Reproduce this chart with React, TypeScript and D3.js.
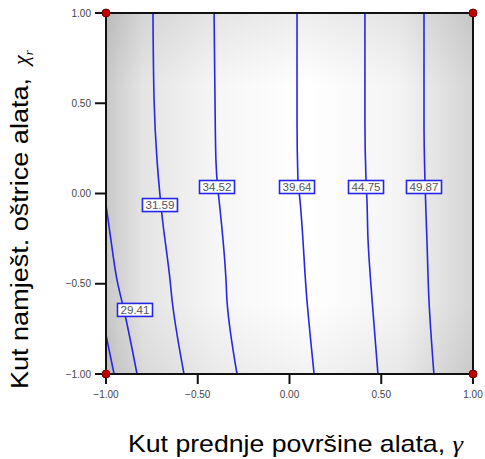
import React from "react";
import * as d3 from "d3";

// axis ticks
const xTicks = [-1, -0.5, 0, 0.5, 1];
const yTicks = [-1, -0.5, 0, 0.5, 1];

// contour lines (data coords: [gamma, chi_r])
const contour24: [number, number][] = [[-1.0, -0.784], [-0.956, -1.0]];
const contour2941: [number, number][] = [[-1.0, -0.064], [-0.973, -0.258], [-0.94, -0.479], [-0.896, -0.673], [-0.831, -1.0]];
const contour3159: [number, number][] = [[-0.744, 1.0], [-0.738, 0.518], [-0.722, 0.186], [-0.706, -0.008], [-0.695, -0.119], [-0.651, -0.479], [-0.64, -0.59], [-0.575, -1.0]];
const contour3452: [number, number][] = [[-0.411, 1.0], [-0.406, 0.518], [-0.401, 0.186], [-0.39, 0.019], [-0.384, -0.036], [-0.346, -0.479], [-0.341, -0.59], [-0.286, -1.0]];
const contour3964: [number, number][] = [[0.041, 1.0], [0.041, 0.407], [0.046, 0.075], [0.057, -0.036], [0.095, -0.59], [0.134, -1.0]];
const contour4475: [number, number][] = [[0.411, 1.0], [0.411, 0.407], [0.417, 0.075], [0.422, -0.036], [0.428, -0.258], [0.45, -0.59], [0.482, -1.0]];
const contour4987: [number, number][] = [[0.733, 1.0], [0.733, 0.407], [0.738, 0.075], [0.749, -0.258], [0.76, -0.59], [0.787, -1.0]];

const contours = [contour24, contour2941, contour3159, contour3452, contour3964, contour4475, contour4987];

// contour labels
const labelTexts = ["29.41", "31.59", "34.52", "39.64", "44.75", "49.87"];
const labelX = [-0.842, -0.706, -0.395, 0.041, 0.417, 0.733];
const labelY = [-0.645, -0.064, 0.036, 0.036, 0.036, 0.036];

// design points at corners
const designX = [-1, 1, -1, 1];
const designY = [1, 1, -1, -1];

export default function App() {
  const W = 485, H = 459;
  const x = d3.scaleLinear().domain([-1, 1]).range([106, 473]);
  const y = d3.scaleLinear().domain([-1, 1]).range([374, 13]);
  const line = d3.line<[number, number]>().x(d => x(d[0])).y(d => y(d[1])).curve(d3.curveMonotoneY);
  const fmt = d3.format(".2f");
  const [x0, x1] = x.range();
  const [yb, yt] = y.range();
  const serif = "'Liberation Serif', 'Times New Roman', serif";

  return (
    <svg width={W} height={H} style={{ position: "absolute", left: 0, top: 0, background: "#fff" }}
      fontFamily="'Liberation Sans', Arial, sans-serif">
      <defs>
        <linearGradient id="hg" x1="0" x2="1" y1="0" y2="0">
          <stop offset="0%" stopColor="#c8c8c8" />
          <stop offset="10%" stopColor="#e4e4e4" />
          <stop offset="30%" stopColor="#f6f6f6" />
          <stop offset="55%" stopColor="#ffffff" />
          <stop offset="80%" stopColor="#f4f4f4" />
          <stop offset="100%" stopColor="#d4d4d4" />
        </linearGradient>
        <linearGradient id="vg" x1="0" x2="0" y1="0" y2="1">
          <stop offset="0%" stopColor="#000" stopOpacity={0.07} />
          <stop offset="20%" stopColor="#000" stopOpacity={0} />
          <stop offset="80%" stopColor="#000" stopOpacity={0} />
          <stop offset="100%" stopColor="#000" stopOpacity={0.05} />
        </linearGradient>
        <clipPath id="plotclip">
          <rect x={x0} y={yt} width={x1 - x0} height={yb - yt} />
        </clipPath>
      </defs>
      <rect x={x0} y={yt} width={x1 - x0} height={yb - yt} fill="url(#hg)" />
      <rect x={x0} y={yt} width={x1 - x0} height={yb - yt} fill="url(#vg)" />

      <g clipPath="url(#plotclip)">
        {contours.map((c, i) => (
          <path key={i} d={line(c) || ""} fill="none" stroke="#2626e6" strokeWidth={1.6} />
        ))}
      </g>

      {labelTexts.map((t, i) => (
        <g key={t} transform={`translate(${x(labelX[i])},${y(labelY[i])})`}>
          <rect x={-17.5} y={-6.5} width={35} height={13} fill="#fff" stroke="#2626e6" strokeWidth={1.6} />
          <text textAnchor="middle" dy="0.36em" fontSize={10.5} fill="#555" textLength={29} lengthAdjust="spacingAndGlyphs">{t}</text>
        </g>
      ))}

      <rect x={x0} y={yt} width={x1 - x0} height={yb - yt} fill="none" stroke="#111" strokeWidth={2} />

      {xTicks.map(t => (
        <g key={"x" + t}>
          <line x1={x(t)} x2={x(t)} y1={yb} y2={yb + 10} stroke="#111" strokeWidth={2} />
          <text x={x(t)} y={398} textAnchor="middle" fontSize={10} fill="#444">{fmt(t)}</text>
        </g>
      ))}
      {yTicks.map(t => (
        <g key={"y" + t}>
          <line x1={x0 - 11} x2={x0} y1={y(t)} y2={y(t)} stroke="#111" strokeWidth={2} />
          <text x={91} y={y(t)} dy="0.35em" textAnchor="end" fontSize={10} fill="#444">{fmt(t)}</text>
        </g>
      ))}

      {designX.map((d, i) => (
        <circle key={i} cx={x(d)} cy={y(designY[i])} r={4} fill="#c00000" stroke="#700000" strokeWidth={1} />
      ))}

      <text x={128} y={452} fontSize={24} fill="#000" textLength={335} lengthAdjust="spacingAndGlyphs">
        Kut prednje površine alata,{" "}
        <tspan fontFamily={serif} fontStyle="italic">γ</tspan>
      </text>
      <text transform="translate(28,389) rotate(-90)" fontSize={23} fill="#000" textLength={311} lengthAdjust="spacingAndGlyphs">
        Kut namješt. oštrice alata,
      </text>
      <text transform="translate(28,65) rotate(-90)" fontSize={22} fill="#000" fontFamily={serif} fontStyle="italic">
        χ<tspan fontSize={13} dy={5}>r</tspan>
      </text>
    </svg>
  );
}
